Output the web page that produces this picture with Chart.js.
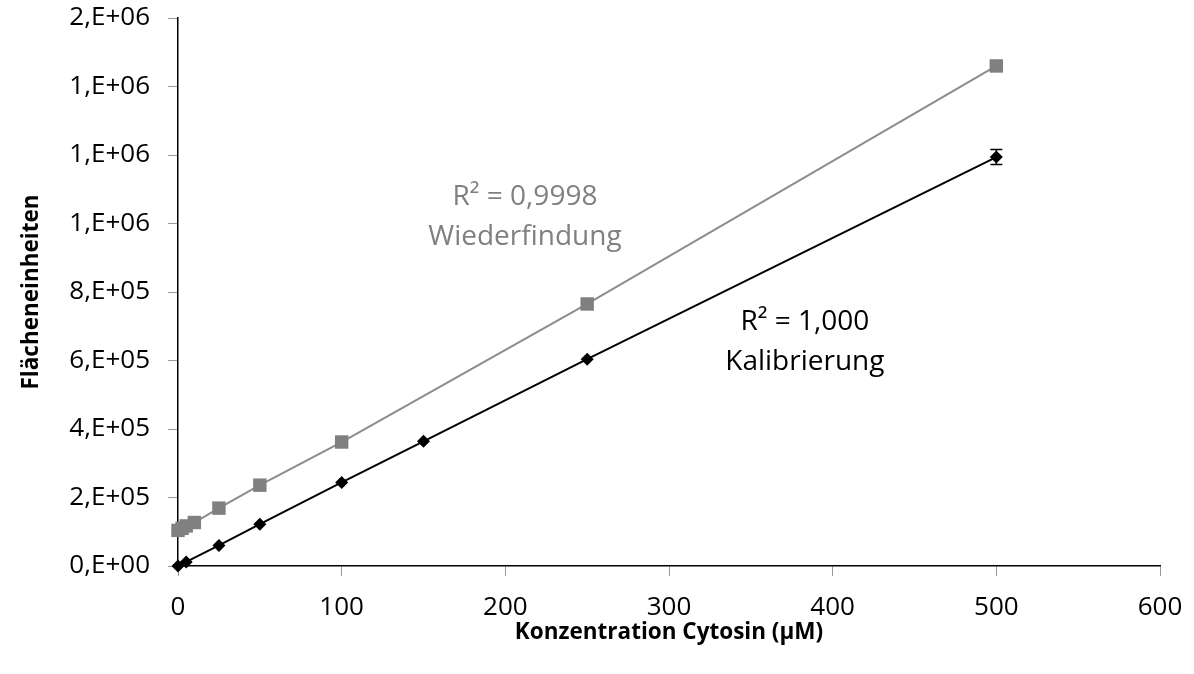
<!DOCTYPE html>
<html>
<head>
<meta charset="utf-8">
<script src="https://cdn.jsdelivr.net/npm/chart.js@4"></script>
<style>
  html, body { margin: 0; padding: 0; background: #fff; }
</style>
</head>
<body>
<canvas id="myChart" width="1194" height="674"></canvas>
<script>
// Kalibrierung (black diamonds)
const calX = [0, 5, 25, 50, 100, 150, 250, 500];
const calY = [0, 12000, 60000, 122000, 244000, 364000, 604000, 1194000];
const calErr = [0, 0, 0, 0, 0, 0, 0, 22000];

// Wiederfindung (grey squares)
const recX = [0, 2.5, 5, 10, 25, 50, 100, 250, 500];
const recY = [104000, 110000, 117000, 127000, 169000, 236000, 362000, 765000, 1460000];

const xTicks = [0, 100, 200, 300, 400, 500, 600];
const yTicks = [0, 200000, 400000, 600000, 800000, 1000000, 1200000, 1400000, 1600000];
const yTickLabels = ["0,E+00", "2,E+05", "4,E+05", "6,E+05", "8,E+05", "1,E+06", "1,E+06", "1,E+06", "2,E+06"];

const labels = [
    { x: 212, y: 1077000, lines: ["R² = 0,9998", "Wiederfindung"], color: "#808080" },
    { x: 383, y: 712000, lines: ["R² = 1,000", "Kalibrierung"], color: "#000000" }
];

const FONT = "'Open Sans', sans-serif";

const errorBars = {
    id: 'errorBars',
    afterDatasetsDraw(chart) {
        const { ctx, scales: { x, y } } = chart;
        ctx.save();
        ctx.strokeStyle = '#000';
        ctx.lineWidth = 1.5;
        calX.forEach((v, i) => {
            if (!calErr[i]) return;
            const px = x.getPixelForValue(v);
            const top = y.getPixelForValue(calY[i] + calErr[i]);
            const bot = y.getPixelForValue(calY[i] - calErr[i]);
            ctx.beginPath();
            ctx.moveTo(px, top); ctx.lineTo(px, bot);
            ctx.moveTo(px - 6, top); ctx.lineTo(px + 6, top);
            ctx.moveTo(px - 6, bot); ctx.lineTo(px + 6, bot);
            ctx.stroke();
        });
        ctx.restore();
    }
};

const textLabels = {
    id: 'textLabels',
    afterDatasetsDraw(chart) {
        const { ctx, scales: { x, y } } = chart;
        ctx.save();
        ctx.textAlign = 'center';
        ctx.textBaseline = 'middle';
        labels.forEach(l => {
            const px = x.getPixelForValue(l.x);
            const py = y.getPixelForValue(l.y);
            ctx.fillStyle = l.color;
            ctx.font = "28px " + FONT;
            l.lines.forEach((t, i) => ctx.fillText(t, px, py + i * 40));
        });
        ctx.restore();
    }
};

new Chart(document.getElementById('myChart'), {
    type: 'scatter',
    data: {
        datasets: [
            {
                label: 'Kalibrierung',
                data: calX.map((v, i) => ({ x: v, y: calY[i] })),
                showLine: true,
                clip: false,
                borderColor: '#000',
                borderWidth: 2,
                backgroundColor: '#000',
                pointStyle: 'rectRot',
                pointRadius: 6.5,
                pointBorderWidth: 0
            },
            {
                label: 'Wiederfindung',
                data: recX.map((v, i) => ({ x: v, y: recY[i] })),
                showLine: true,
                clip: false,
                borderColor: '#8c8c8c',
                borderWidth: 2,
                backgroundColor: '#808080',
                pointBackgroundColor: '#808080',
                pointStyle: 'rect',
                pointRadius: 9.5,
                pointBorderWidth: 0
            }
        ]
    },
    options: {
        responsive: false,
        animation: false,
        devicePixelRatio: 1,
        layout: { padding: { top: 18, right: 34, left: 0, bottom: 0 } },
        plugins: { legend: { display: false }, tooltip: { enabled: false } },
        scales: {
            x: {
                type: 'linear',
                min: 0, max: 600,
                afterBuildTicks: s => { s.ticks = xTicks.map(v => ({ value: v })); },
                afterFit: s => { s.height = 108; s.paddingLeft = 0; s.paddingRight = 0; },
                grid: { drawOnChartArea: false, drawTicks: true, tickLength: 10, color: '#999' },
                border: { color: '#000', width: 1.5 },
                ticks: { color: '#000', padding: 16, font: { family: FONT, size: 26 } },
                title: {
                    display: true,
                    text: 'Konzentration Cytosin (µM)',
                    color: '#000',
                    font: { family: FONT, size: 22.5, weight: 'bold' },
                    padding: { top: 0, bottom: 28 }
                }
            },
            y: {
                type: 'linear',
                min: 0, max: 1600000,
                afterBuildTicks: s => { s.ticks = yTicks.map(v => ({ value: v })); },
                afterFit: s => { s.width = 178; s.paddingTop = 0; s.paddingBottom = 0; },
                grid: { drawOnChartArea: false, drawTicks: true, tickLength: 10, color: '#999' },
                border: { color: '#000', width: 1.5 },
                ticks: {
                    color: '#000', padding: 18, font: { family: FONT, size: 26 },
                    callback: (v) => yTickLabels[yTicks.indexOf(v)]
                },
                title: {
                    display: true,
                    text: 'Flächeneinheiten',
                    color: '#000',
                    font: { family: FONT, size: 22.5, weight: 'bold' },
                    padding: { top: 18, bottom: 0 }
                }
            }
        }
    },
    plugins: [errorBars, textLabels]
});
</script>
</body>
</html>
